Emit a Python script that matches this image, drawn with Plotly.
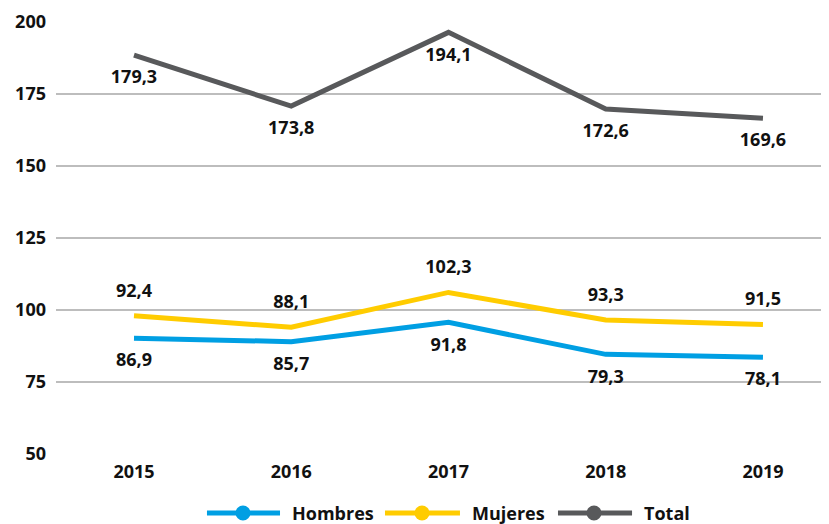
import plotly.graph_objects as go

years = ["2015", "2016", "2017", "2018", "2019"]

# plotted positions
hombres = [90.2, 89.0, 95.7, 84.6, 83.6]
mujeres = [98.0, 94.0, 106.1, 96.5, 95.0]
total = [188.5, 170.8, 196.4, 169.8, 166.6]

# printed data labels
hombres_lbl = ["86,9", "85,7", "91,8", "79,3", "78,1"]
mujeres_lbl = ["92,4", "88,1", "102,3", "93,3", "91,5"]
total_lbl = ["179,3", "173,8", "194,1", "172,6", "169,6"]

y_ticks = [50, 75, 100, 125, 150, 175, 200]

series_names = ["Hombres", "Mujeres", "Total"]
colors = {"Hombres": "#009FE3", "Mujeres": "#FFCC00", "Total": "#58595B"}

FONT = "Open Sans"
TXT = "#111111"
fig = go.Figure()

specs = [
    ("Hombres", hombres, hombres_lbl, "bottom center"),
    ("Mujeres", mujeres, mujeres_lbl, "top center"),
    ("Total", total, total_lbl, "bottom center"),
]
for name, vals, lbl, pos in specs:
    fig.add_trace(go.Scatter(
        x=years, y=vals, name=name, mode="lines+markers+text",
        text=lbl, textposition=pos,
        textfont=dict(family=FONT, size=18, color=TXT, weight="bold"),
        line=dict(color=colors[name], width=5),
        marker=dict(size=22, opacity=0, color=colors[name]),
        showlegend=False, hoverinfo="skip",
    ))

# custom legend
shapes = []
annotations = []
leg_y = -0.1366
leg = [("Hombres", 0.1953, 0.2898, 0.2419, 0.3027),
       ("Mujeres", 0.4256, 0.5226, 0.4735, 0.5356),
       ("Total", 0.6494, 0.7452, 0.6960, 0.7581)]
for name, x0, x1, xc, xt in leg:
    shapes.append(dict(type="line", xref="paper", yref="paper", x0=x0, x1=x1,
                       y0=leg_y, y1=leg_y, line=dict(color=colors[name], width=5)))
    shapes.append(dict(type="circle", xref="paper", yref="paper",
                       xsizemode="pixel", ysizemode="pixel",
                       xanchor=xc, yanchor=leg_y, x0=-7.5, x1=7.5, y0=-7.5, y1=7.5,
                       fillcolor=colors[name], line=dict(color=colors[name], width=0)))
    annotations.append(dict(xref="paper", yref="paper", x=xt, y=leg_y,
                            xanchor="left", yanchor="middle", showarrow=False,
                            text=name,
                            font=dict(family=FONT, size=18, color=TXT, weight="bold")))

# page body adds an 8px margin, so the figure is sized to fit the window
fig.update_layout(
    width=821, height=516,
    margin=dict(l=48, r=0, t=14, b=70),
    paper_bgcolor="white", plot_bgcolor="white",
    shapes=shapes, annotations=annotations,
    xaxis=dict(type="category", range=[-0.496, 4.42], showgrid=False,
               showline=False, zeroline=False, ticks="",
               tickfont=dict(family=FONT, size=18, color=TXT, weight="bold"),
               ticklabelstandoff=5),
    yaxis=dict(range=[50, 200], tickvals=y_ticks, showgrid=True,
               gridcolor="#BDBDBD", gridwidth=2, zeroline=False, showline=False,
               ticks="", ticklabelstandoff=9,
               tickfont=dict(family=FONT, size=18, color=TXT, weight="bold")),
)

fig.write_html("out.html")
